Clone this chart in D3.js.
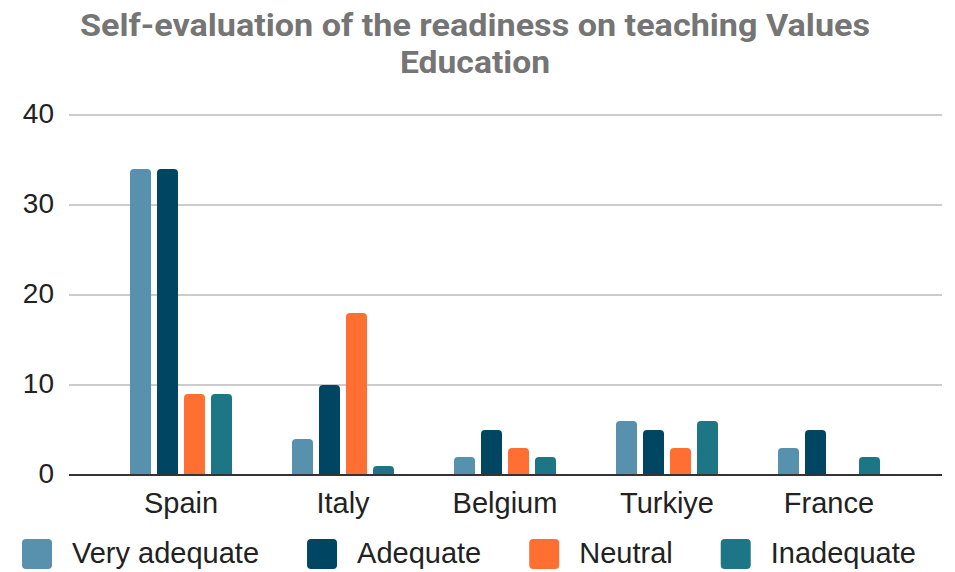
<!DOCTYPE html>
<html>
<head>
<meta charset="utf-8">
<script src="https://cdn.jsdelivr.net/npm/d3@7"></script>
<style>
  body { margin: 0; background: #fff; }
  text { font-family: "Liberation Sans", Arial, sans-serif; }
</style>
</head>
<body>
<div id="chart-area"></div>
<script>
// data
var countries = ["Spain", "Italy", "Belgium", "Turkiye", "France"];
var seriesNames = ["Very adequate", "Adequate", "Neutral", "Inadequate"];
var veryAdequate = [34, 4, 2, 6, 3];
var adequate = [34, 10, 5, 5, 5];
var neutral = [9, 18, 3, 3, 0];
var inadequate = [9, 1, 2, 6, 2];
var yTicks = [0, 10, 20, 30, 40];
var colors = ["#5891ad", "#004561", "#ff6f31", "#1c7685"];

var values = [veryAdequate, adequate, neutral, inadequate];

var width = 955, height = 572;
var plotLeft = 69, plotRight = 942, plotTop = 115, plotBottom = 475;

var svg = d3.select("#chart-area").append("svg").attr("width", width).attr("height", height);

// title (two lines, stretched a bit to the reference width)
svg.append("text").attr("x", 475).attr("y", 36).attr("text-anchor", "middle").attr("font-size", "32px")
  .attr("font-weight", "bold").style("font-family", "Roboto, sans-serif").style("fill", "#757575")
  .attr("textLength", 790).attr("lengthAdjust", "spacingAndGlyphs")
  .text("Self-evaluation of the readiness on teaching Values");
svg.append("text").attr("x", 475).attr("y", 73).attr("text-anchor", "middle").attr("font-size", "32px")
  .attr("font-weight", "bold").style("font-family", "Roboto, sans-serif").style("fill", "#757575")
  .attr("textLength", 150).attr("lengthAdjust", "spacingAndGlyphs")
  .text("Education");

var y = d3.scaleLinear().domain([0, 40]).range([plotBottom, plotTop]);
var x0 = d3.scaleBand().domain(countries).range([100, 910]);
var x1 = d3.scaleBand().domain(seriesNames).range([30, 132]).paddingInner(0.222);

// grid
svg.append("g").selectAll("line").data(yTicks.filter(function(d) { return d > 0; })).enter().append("line")
  .attr("x1", plotLeft).attr("x2", plotRight)
  .attr("y1", function(d) { return y(d); }).attr("y2", function(d) { return y(d); })
  .attr("stroke", "#cccccc").attr("stroke-width", 2);

// y labels
svg.append("g").selectAll("text").data(yTicks).enter().append("text")
  .attr("x", 54).attr("y", function(d) { return y(d) + 8; })
  .attr("text-anchor", "end").attr("font-size", "28px").style("fill", "#222")
  .text(function(d) { return d; });

// bars with rounded tops
function barPath(x, yt, w, h, r) {
  if (h <= 0) return "";
  r = Math.min(r, h, w / 2);
  return "M" + x + "," + (yt + h) + "V" + (yt + r) + "Q" + x + "," + yt + " " + (x + r) + "," + yt +
    "H" + (x + w - r) + "Q" + (x + w) + "," + yt + " " + (x + w) + "," + (yt + r) + "V" + (yt + h) + "Z";
}

var groups = svg.append("g").selectAll("g").data(countries).enter().append("g")
  .attr("transform", function(d) { return "translate(" + x0(d) + ",0)"; });

groups.selectAll("path").data(function(c, i) {
  return seriesNames.map(function(s, j) { return {s: s, v: values[j][i], c: colors[j]}; });
}).enter().append("path")
  .attr("d", function(d) { return barPath(x1(d.s), y(d.v), x1.bandwidth(), y(0) - y(d.v), 4); })
  .attr("fill", function(d) { return d.c; });

// baseline
svg.append("line").attr("x1", plotLeft).attr("x2", plotRight).attr("y1", y(0)).attr("y2", y(0))
  .attr("stroke", "#333").attr("stroke-width", 2);

// x labels
svg.append("g").selectAll("text").data(countries).enter().append("text")
  .attr("x", function(d) { return x0(d) + x0.bandwidth() / 2; }).attr("y", 513)
  .attr("text-anchor", "middle").attr("font-size", "29px").style("fill", "#222")
  .text(function(d) { return d; });

// legend
var legend = svg.append("g");
var lx = 22;
seriesNames.forEach(function(s, i) {
  legend.append("rect").attr("x", lx).attr("y", 539).attr("width", 30).attr("height", 30)
    .attr("rx", 4).attr("fill", colors[i]);
  var t = legend.append("text").attr("x", lx + 50).attr("y", 563).attr("font-size", "29px")
    .style("fill", "#222").text(s);
  lx += 50 + t.node().getComputedTextLength() + 48;
});
</script>
</body>
</html>
